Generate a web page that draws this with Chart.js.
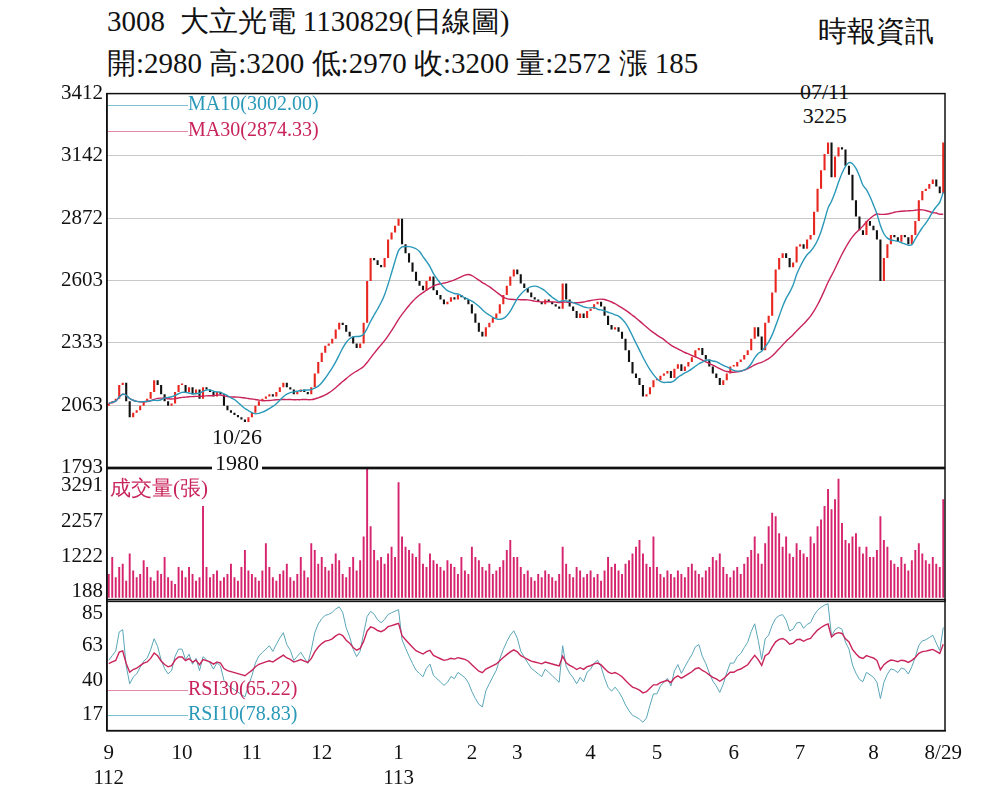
<!DOCTYPE html>
<html><head><meta charset="utf-8">
<script src="https://cdn.jsdelivr.net/npm/chart.js@4"></script>
<style>
body{margin:0;background:#fff;font-family:"Liberation Serif",serif;}
#wrap{position:relative;width:1000px;height:803px;}
canvas{position:absolute;left:0;}
.t{position:absolute;white-space:nowrap;color:#111;}
.ln{display:inline-block;width:80px;height:0;vertical-align:middle;}
</style></head><body>
<div id="wrap">
<div class="t" style="left:107px;top:2px;font-size:29px">3008&nbsp; 大立光電 1130829(日線圖)</div>
<div class="t" style="left:818px;top:12px;font-size:29px">時報資訊</div>
<div class="t" style="left:107px;top:44px;font-size:29px">開:2980 高:3200 低:2970 收:3200 量:2572 漲 185</div>
<div class="t" style="left:800px;top:80px;font-size:22px;text-align:center;line-height:24px">07/11<br>3225</div>
<canvas id="price" style="top:77px" width="1000" height="407"></canvas>
<canvas id="vol" style="top:452px" width="1000" height="166"></canvas>
<canvas id="rsi" style="top:583px" width="1000" height="210"></canvas>
<div class="t" style="left:212px;top:424px;font-size:22px;text-align:center;line-height:26px;background:#fff">10/26<br>1980</div>
<div class="t" style="left:108px;top:92px;font-size:20px;color:#2a98b8"><span class="ln" style="border-top:1px solid #7cc0d2"></span>MA10(3002.00)</div>
<div class="t" style="left:108px;top:118px;font-size:20px;color:#c8245a"><span class="ln" style="border-top:1px solid #e08aa6"></span>MA30(2874.33)</div>
<div class="t" style="left:110px;top:474px;font-size:21px;color:#c8245a">成交量(張)</div>
<div class="t" style="left:108px;top:677px;font-size:20px;color:#c8245a"><span class="ln" style="border-top:1px solid #e08aa6"></span>RSI30(65.22)</div>
<div class="t" style="left:108px;top:702px;font-size:20px;color:#2a98b8"><span class="ln" style="border-top:1px solid #7cc0d2"></span>RSI10(78.83)</div>
</div>
<script>
const monthNames = ['9','10','11','12','1','2','3','4','5','6','7','8'];
const closeByMonth = [
  [2070,2080,2090,2150,2160,2080,2010,2030,2040,2060,2080,2090,2120,2170,2150,2110,2080,2060,2070,2120,2150],
  [2150,2120,2140,2110,2130,2090,2140,2130,2120,2100,2120,2110,2060,2040,2030,2020,2010,2000,1990,2010],
  [2030,2060,2080,2090,2100,2110,2100,2120,2140,2160,2140,2130,2110,2120,2130,2120,2110,2140,2200,2250],
  [2290,2320,2330,2350,2390,2420,2410,2380,2360,2330,2310,2330,2420,2600,2700,2690,2670,2660,2700,2780,2810,2840],
  [2870,2760,2720,2680,2640,2600,2580,2560,2600,2620,2560,2540,2520,2500,2510,2530,2520,2540,2530,2520,2500],
  [2460,2420,2380,2360,2400,2420,2440,2460,2500,2540,2580,2620,2650],
  [2630,2590,2570,2550,2530,2520,2510,2500,2520,2510,2500,2490,2480,2590,2520,2490,2470,2440,2460,2440,2470],
  [2480,2500,2510,2490,2450,2410,2390,2400,2380,2350,2300,2250,2200,2180,2150,2100,2110,2140,2170],
  [2170,2190,2200,2210,2180,2220,2240,2210,2230,2250,2270,2300,2310,2280,2260,2230,2200,2180,2150,2170,2200,2230],
  [2230,2250,2260,2280,2300,2350,2400,2360,2300,2420,2450,2550,2650,2700,2720,2700,2660,2680,2750],
  [2760,2740,2780,2800,2900,3000,3080,3150,3200,3050,3140,3180,3170,3100,3060,2950,2880,2820,2800,2860,2840],
  [2820,2780,2600,2700,2760,2800,2790,2770,2800,2790,2760,2800,2860,2950,2990,3000,3020,3040,3010,2980,3200]
];
const volByMonth = [
  [700,1200,600,900,1000,500,1300,800,600,700,1100,900,600,500,800,700,1200,600,500,400,900],
  [800,600,900,700,500,600,2700,900,600,700,800,500,600,700,1000,600,500,900,1400,800],
  [700,600,500,800,1600,900,600,500,700,800,1000,600,500,700,1200,800,600,1600,1400,1000],
  [1200,900,800,1000,1300,1100,700,600,900,1200,800,1100,1800,3800,2100,1400,1100,1200,1000,1300,1500,1200],
  [3400,1800,1500,1400,1300,1200,1600,1000,900,1300,1100,1000,900,800,1100,1000,900,700,1200,800,700],
  [1500,1200,1100,900,800,1000,700,800,900,1100,1400,1700,1200],
  [1200,900,700,800,600,500,700,600,800,700,600,500,700,1500,1000,700,600,900,800,600,700],
  [800,600,700,500,800,1200,900,1000,800,700,1000,1100,1300,1500,1700,1300,1000,900,1800],
  [900,700,600,800,700,600,800,700,600,900,1000,800,700,600,800,900,1200,1100,1300,900,700,600],
  [800,900,700,1000,1200,1400,1800,1300,1000,1600,2100,2500,2400,1900,1500,1800,1300,1200,1600],
  [1400,1300,1200,1800,1600,2100,2300,2700,3200,2600,2900,3500,2200,1700,1600,1800,1900,1500,1300,1500,1200],
  [1200,1400,2400,1700,1500,1100,1000,900,1200,1000,800,1100,1400,1600,1300,1100,1000,1200,1000,900,2900]
];
const priceTicks = [1793,2063,2333,2603,2872,3142,3412];
const volTicks = [188,1222,2257,3291];
const rsiTicks = [17,40,63,85];
const firstOpen = 2060;

const closes = closeByMonth.flat();
const volumes = volByMonth.flat();
const labels = [], monthStart = {};
closeByMonth.forEach((m, i) => {
  monthStart[labels.length] = i;
  m.forEach(() => labels.push(labels.length));
});
const lastIdx = closes.length - 1;
const opens = closes.map((c, i) => i === 0 ? firstOpen : closes[i - 1]);
const bodies = closes.map((c, i) => {
  const lo = Math.min(opens[i], c), hi = Math.max(opens[i], c);
  return [lo, hi === lo ? hi + 6 : hi];
});
const candleColors = closes.map((c, i) => c >= opens[i] ? '#e8251f' : '#111');

function movingAvg(arr, n) {
  return arr.map((_, i) => {
    const s = arr.slice(Math.max(0, i - n + 1), i + 1);
    return s.reduce((a, b) => a + b, 0) / s.length;
  });
}
// Wilder-smoothed RSI
function rsi(arr, n) {
  let up = 8, dn = 8;
  return arr.map((c, i) => {
    const d = i === 0 ? c - firstOpen : c - arr[i - 1];
    up = (up * (n - 1) + Math.max(d, 0)) / n;
    dn = (dn * (n - 1) + Math.max(-d, 0)) / n;
    return 100 * up / (up + dn);
  });
}

const tickFont = { family: 'Liberation Serif', size: 21 };
function yAxis(min, max, ticks, grid) {
  return {
    min, max,
    afterFit: s => { s.width = 107; },
    afterBuildTicks: s => { s.ticks = ticks.map(v => ({ value: v })); },
    ticks: { color: '#111', font: tickFont, padding: 4, callback: v => String(v) },
    grid: { display: grid, color: '#c8c8c8', drawTicks: false },
    border: { color: '#111', width: 1.5 }
  };
}
function xAxis(show) {
  return {
    offset: true,
    display: show ? true : false,
    grid: { display: false },
    border: { color: '#111', width: 1.5 },
    ticks: {
      display: show, autoSkip: false, maxRotation: 0, color: '#111', font: tickFont, padding: 2,
      callback: (v) => {
        if (v === lastIdx) return '8/29';
        if (monthStart[v] === undefined) return null;
        const m = monthNames[monthStart[v]];
        if (m === '9') return ['9', '112'];
        if (m === '1') return ['1', '113'];
        return m;
      }
    }
  };
}
const frame = {
  id: 'frame',
  afterDraw(c) {
    const a = c.chartArea, ctx = c.ctx;
    ctx.save(); ctx.strokeStyle = '#111'; ctx.lineWidth = 1.5;
    ctx.strokeRect(a.left, a.top, a.right - a.left, a.bottom - a.top);
    ctx.restore();
  }
};
const base = (pad) => ({
  responsive: false, animation: false,
  layout: { padding: pad },
  plugins: { legend: { display: false }, tooltip: { enabled: false } }
});

new Chart(document.getElementById('price'), {
  data: {
    labels,
    datasets: [
      { type: 'line', data: movingAvg(closes, 10), borderColor: '#2a98b8', borderWidth: 1.4, pointRadius: 0, tension: 0.3 },
      { type: 'line', data: movingAvg(closes, 30), borderColor: '#c8245a', borderWidth: 1.4, pointRadius: 0, tension: 0.3 },
      { type: 'bar', data: bodies, backgroundColor: candleColors, barPercentage: 0.6, categoryPercentage: 1 }
    ]
  },
  options: Object.assign(base({ top: 10, bottom: 10, right: 55 }), {
    scales: { x: xAxis(false), y: yAxis(1793, 3412, priceTicks, true) }
  }),
  plugins: [frame]
});

new Chart(document.getElementById('vol'), {
  type: 'bar',
  data: { labels, datasets: [{ data: volumes, backgroundColor: '#d6246e', barPercentage: 0.55, categoryPercentage: 1 }] },
  options: Object.assign(base({ top: 10, bottom: 10, right: 55 }), {
    scales: { x: xAxis(false), y: yAxis(-110, 3800, volTicks, false) }
  }),
  plugins: [frame]
});

new Chart(document.getElementById('rsi'), {
  data: {
    labels,
    datasets: [
      { type: 'line', data: rsi(closes, 30), borderColor: '#c8245a', borderWidth: 1.4, pointRadius: 0 },
      { type: 'line', data: rsi(closes, 10), borderColor: '#5aa6b8', borderWidth: 1, pointRadius: 0 }
    ]
  },
  options: Object.assign(base({ top: 10, bottom: 0, right: 55 }), {
    scales: { x: xAxis(true), y: yAxis(6, 94, rsiTicks, false) }
  }),
  plugins: [frame]
});
</script>
</body></html>
